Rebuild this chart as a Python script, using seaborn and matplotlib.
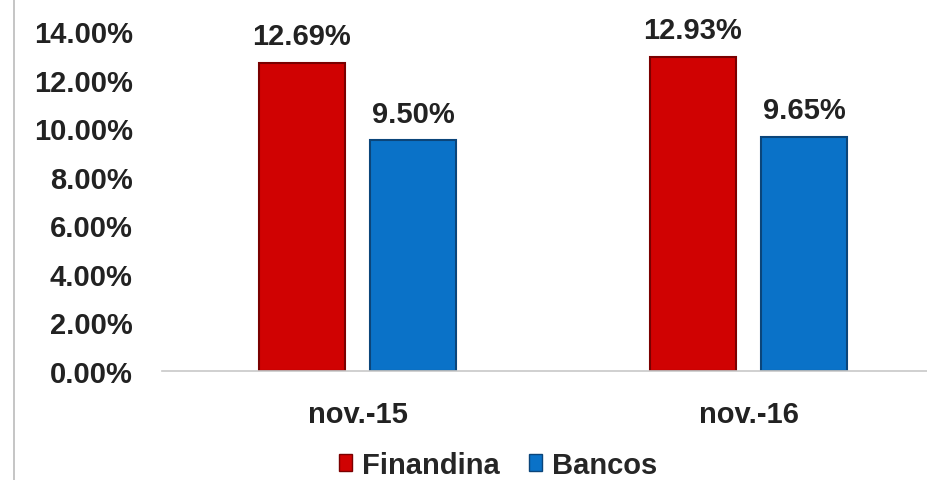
import matplotlib
matplotlib.use("Agg")
import matplotlib.pyplot as plt
import seaborn as sns
import pandas as pd
from matplotlib.lines import Line2D
from matplotlib.patches import Patch

categories = ["nov.-15", "nov.-16"]
series_names = ["Finandina", "Bancos"]
finandina = [12.69, 12.93]
bancos = [9.50, 9.65]
yticks = [0, 2, 4, 6, 8, 10, 12, 14]
ytick_labels = ["0.00%", "2.00%", "4.00%", "6.00%", "8.00%", "10.00%", "12.00%", "14.00%"]

colors = {"Finandina": "#D00202", "Bancos": "#0A72C8"}
edges = {"Finandina": "#7A0000", "Bancos": "#0B457A"}

df = pd.DataFrame({
    "cat": categories * 2,
    "serie": [series_names[0]] * 2 + [series_names[1]] * 2,
    "val": finandina + bancos,
})

sns.set_theme(style="white")
plt.rcParams["font.family"] = ["Liberation Sans", "DejaVu Sans"]

FS = 21
TXT = "#222222"
W, H = 928, 481
fig = plt.figure(figsize=(W / 100, H / 100), dpi=100)
ax = fig.add_axes([162 / W, 1 - 372 / H, (944 - 162) / W, (372 - 32) / H])

sns.barplot(data=df, x="cat", y="val", hue="serie", order=categories,
            hue_order=series_names, palette=colors, width=0.572, gap=0.23,
            ax=ax, legend=False, saturation=1)

for container, name in zip(ax.containers, series_names):
    for bar in container:
        bar.set_edgecolor(edges[name])
        bar.set_linewidth(1.5)
    ax.bar_label(container, labels=[f"{v:.2f}%" for v in container.datavalues],
                 padding=9, fontsize=FS, fontweight="bold", color=TXT)

ax.set_ylim(0, 14)
ax.set_yticks(yticks)
ax.set_yticklabels(ytick_labels, fontsize=FS, fontweight="bold", color=TXT)
ax.tick_params(axis="y", pad=21, length=0)
ax.tick_params(axis="x", pad=21, length=0, labelsize=FS)
for lbl in ax.get_xticklabels():
    lbl.set_fontweight("bold")
    lbl.set_color(TXT)
ax.set_xlabel("")
ax.set_ylabel("")
for s in ["top", "right", "left"]:
    ax.spines[s].set_visible(False)
ax.spines["bottom"].set_color("#C8C8C8")
ax.spines["bottom"].set_linewidth(1.2)

handles = [Patch(facecolor=colors[n], edgecolor=edges[n]) for n in series_names]
fig.legend(handles, series_names, loc="center", bbox_to_anchor=(498 / W, 1 - 466 / H),
           ncol=2, frameon=False, prop={"size": FS, "weight": "bold"},
           handlelength=0.45, handleheight=0.5, handletextpad=0.35, columnspacing=1.0,
           borderpad=0, borderaxespad=0)

fig.add_artist(Line2D([14 / W, 14 / W], [0, 1], transform=fig.transFigure,
                      color="#BBBBBB", linewidth=1.2))

fig.savefig("out.png", dpi=100)
